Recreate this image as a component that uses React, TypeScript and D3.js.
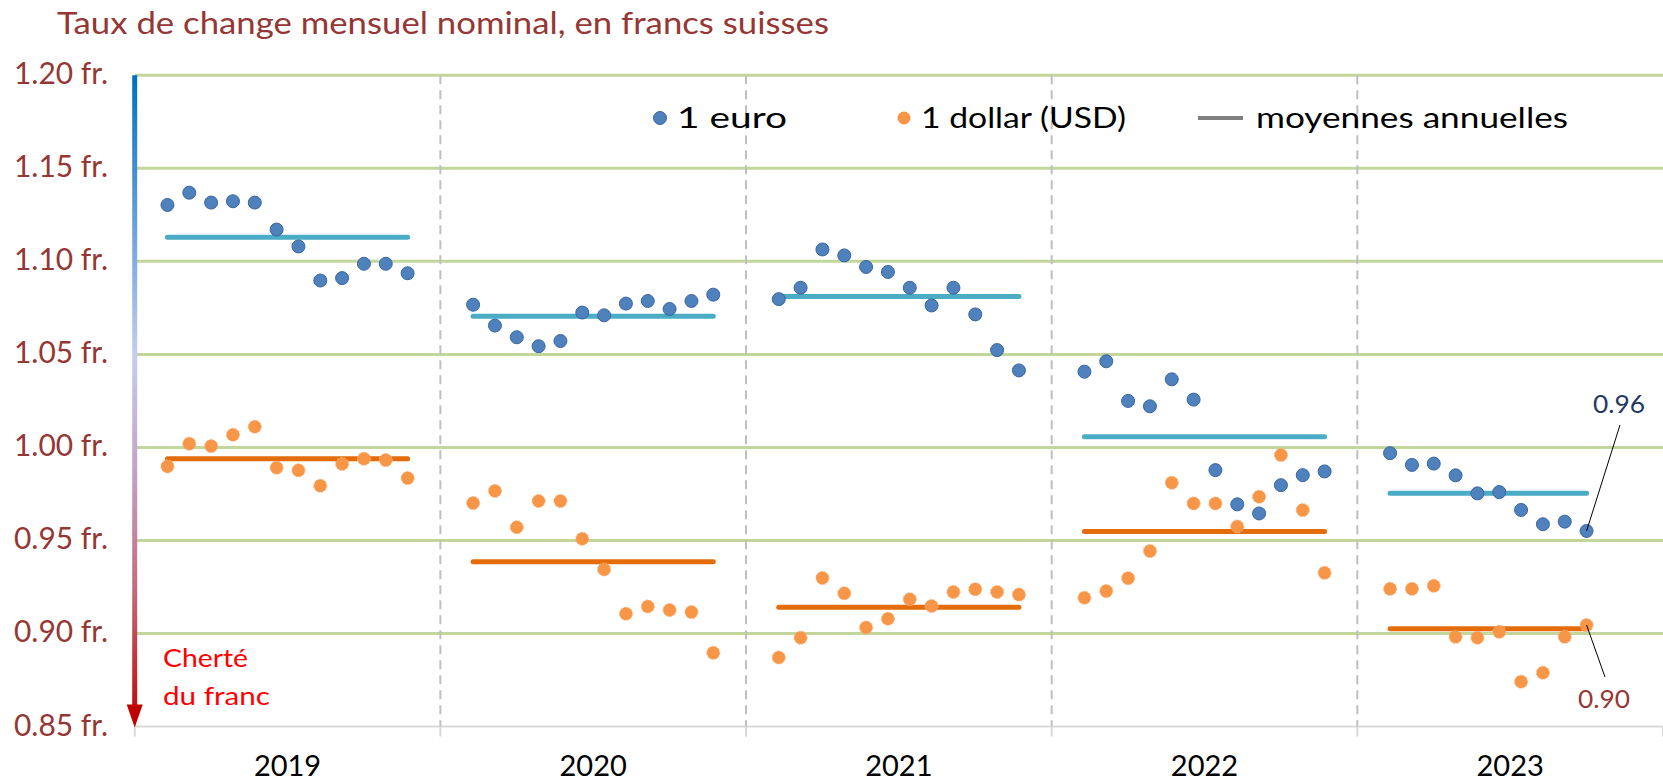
import React from "react";
import * as d3 from "d3";

const years = ["2019", "2020", "2021", "2022", "2023"];
const eur2019 = [1.1303, 1.1369, 1.1316, 1.1323, 1.1316, 1.1171, 1.108, 1.0897, 1.091, 1.0987, 1.0987, 1.0936];
const eur2020 = [1.0767, 1.0655, 1.0592, 1.0544, 1.0572, 1.0725, 1.071, 1.0773, 1.0787, 1.0744, 1.0787, 1.0821];
const eur2021 = [1.0797, 1.0858, 1.1064, 1.1032, 1.097, 1.0943, 1.0858, 1.0763, 1.0858, 1.0715, 1.0523, 1.0414];
const eur2022 = [1.0407, 1.0463, 1.025, 1.0221, 1.0366, 1.0257, 0.9878, 0.9694, 0.9645, 0.9797, 0.9851, 0.9871];
const eur2023 = [0.9969, 0.9906, 0.9913, 0.985, 0.9753, 0.976, 0.9664, 0.9587, 0.9601, 0.9551];
const usd2019 = [0.9898, 1.002, 1.0007, 1.0068, 1.0111, 0.9891, 0.9877, 0.9794, 0.9911, 0.9939, 0.9932, 0.9835];
const usd2020 = [0.9701, 0.9766, 0.9571, 0.9712, 0.9712, 0.9509, 0.9344, 0.9106, 0.9145, 0.9126, 0.9115, 0.8896];
const usd2021 = [0.8871, 0.8977, 0.9298, 0.9216, 0.9032, 0.9079, 0.9184, 0.9148, 0.9223, 0.9238, 0.9223, 0.9209];
const usd2022 = [0.9192, 0.9228, 0.9297, 0.9443, 0.981, 0.9699, 0.9699, 0.9575, 0.9735, 0.9959, 0.9663, 0.9326];
const usd2023 = [0.924, 0.924, 0.9256, 0.8982, 0.8977, 0.9009, 0.8741, 0.8789, 0.8982, 0.9045];
const eurAvg = [1.113, 1.0705, 1.0811, 1.0057, 0.9753];
const usdAvg = [0.9939, 0.9385, 0.9141, 0.9548, 0.9025];
const yTicks = [0.85, 0.9, 0.95, 1.0, 1.05, 1.1, 1.15, 1.2];
const legendLabels = ["1 euro", "1 dollar (USD)", "moyennes annuelles"];
const lastEurLabel = "0.96";
const lastUsdLabel = "0.90";

const eurSeries = [eur2019, eur2020, eur2021, eur2022, eur2023];
const usdSeries = [usd2019, usd2020, usd2021, usd2022, usd2023];

const W = 1663;
const H = 781;
const left = 134.7;
const right = 1663;
const top = 75.3;
const bottom = 726.5;
const FONT = "Lato, 'Open Sans', sans-serif";

export default function App() {
  const x = d3.scaleBand<string>().domain(years).range([left, right]).padding(0);
  const y = d3.scaleLinear().domain([0.85, 1.2]).range([bottom, top]);
  const bw = x.bandwidth();
  const mx = (yr: string, m: number) => (x(yr) as number) + ((m + 1.5) * bw) / 14;

  const boundaries = years.map((yr) => x(yr) as number).concat([right]);

  const lastEurIdx = eur2023.length - 1;
  const pE = { x: mx("2023", lastEurIdx), y: y(eur2023[lastEurIdx]) };
  const pU = { x: mx("2023", usd2023.length - 1), y: y(usd2023[usd2023.length - 1]) };

  return (
    <svg
      width={W}
      height={H}
      style={{ position: "absolute", left: 0, top: 0, background: "#fff" }}
      fontFamily={FONT}
    >
      <defs>
        <linearGradient id="arrowGrad" gradientUnits="userSpaceOnUse" x1="0" y1={top} x2="0" y2={bottom}>
          <stop offset="0" stopColor="#0070C0" />
          <stop offset="0.2" stopColor="#5B9BD5" />
          <stop offset="0.43" stopColor="#C5CDF0" />
          <stop offset="0.6" stopColor="#C4A4C8" />
          <stop offset="0.8" stopColor="#C26878" />
          <stop offset="1" stopColor="#C00000" />
        </linearGradient>
      </defs>

      {/* title */}
      <text x={57} y={34} fontSize={31} fill="#953735" textLength={772} lengthAdjust="spacingAndGlyphs">
        Taux de change mensuel nominal, en francs suisses
      </text>

      {/* green gridlines */}
      {yTicks.filter((t) => t > 0.86).map((t) => (
        <line key={t} x1={left} x2={right} y1={y(t)} y2={y(t)} stroke="#C3D69B" strokeWidth={3} />
      ))}
      {/* bottom axis */}
      <line x1={left} x2={right} y1={y(0.85)} y2={y(0.85)} stroke="#D9D9D9" strokeWidth={2} />
      {boundaries.map((b, i) => (
        <line key={"t" + i} x1={b} x2={b} y1={y(0.85)} y2={y(0.85) + 10} stroke="#D9D9D9" strokeWidth={2} />
      ))}
      {/* dashed separators */}
      {boundaries.slice(1, 5).map((b, i) => (
        <line key={"d" + i} x1={b} x2={b} y1={top} y2={bottom} stroke="#BFBFBF" strokeWidth={2} strokeDasharray="9,6" />
      ))}

      {/* y labels */}
      {yTicks.map((t) => (
        <text key={"yl" + t} x={108} y={y(t) + 9} textAnchor="end" fontSize={30} fill="#953735" textLength={94} lengthAdjust="spacingAndGlyphs">
          {t.toFixed(2)} fr.
        </text>
      ))}

      {/* x labels */}
      {years.map((yr) => (
        <text key={"xl" + yr} x={(x(yr) as number) + bw / 2} y={776} textAnchor="middle" fontSize={29} fill="#000">
          {yr}
        </text>
      ))}

      {/* gradient arrow */}
      <line x1={left} x2={left} y1={top} y2={bottom - 18} stroke="url(#arrowGrad)" strokeWidth={5} />
      <polygon
        points={`${left - 8},${bottom - 22} ${left + 8},${bottom - 22} ${left},${bottom + 1}`}
        fill="#C00000"
      />
      <text x={163} y={667} fontSize={25.5} fill="#FF0000" textLength={85} lengthAdjust="spacingAndGlyphs">Cherté</text>
      <text x={163} y={705} fontSize={25.5} fill="#FF0000" textLength={107} lengthAdjust="spacingAndGlyphs">du franc</text>

      {/* annual averages */}
      {years.map((yr, i) => {
        const n = eurSeries[i].length;
        return (
          <g key={"avg" + yr}>
            <line x1={mx(yr, 0)} x2={mx(yr, n - 1)} y1={y(eurAvg[i])} y2={y(eurAvg[i])} stroke="#4BACC6" strokeWidth={5} strokeLinecap="round" />
            <line x1={mx(yr, 0)} x2={mx(yr, n - 1)} y1={y(usdAvg[i])} y2={y(usdAvg[i])} stroke="#E46C0A" strokeWidth={5} strokeLinecap="round" />
          </g>
        );
      })}

      {/* points */}
      {years.map((yr, i) => (
        <g key={"pts" + yr}>
          {usdSeries[i].map((v, m) => (
            <circle key={"u" + m} cx={mx(yr, m)} cy={y(v)} r={6.5} fill="#F79646" stroke="#FAB07A" strokeWidth={1} strokeDasharray="2,1.5" />
          ))}
          {eurSeries[i].map((v, m) => (
            <circle key={"e" + m} cx={mx(yr, m)} cy={y(v)} r={6.5} fill="#4F81BD" stroke="#3A66A0" strokeWidth={1} />
          ))}
        </g>
      ))}

      {/* end labels */}
      <line x1={1620} y1={425} x2={pE.x} y2={pE.y} stroke="#000" strokeWidth={1} />
      <text x={1619} y={413} textAnchor="middle" fontSize={25} fill="#1F3864" textLength={52} lengthAdjust="spacingAndGlyphs">{lastEurLabel}</text>
      <line x1={pU.x} y1={pU.y} x2={1605} y2={677} stroke="#000" strokeWidth={1} />
      <text x={1604} y={708} textAnchor="middle" fontSize={25} fill="#953735" textLength={52} lengthAdjust="spacingAndGlyphs">{lastUsdLabel}</text>

      {/* legend */}
      <circle cx={660} cy={118} r={6.5} fill="#4F81BD" stroke="#3A66A0" strokeWidth={1} />
      <text x={677} y={128} fontSize={28} fill="#000" textLength={110} lengthAdjust="spacingAndGlyphs">{legendLabels[0]}</text>
      <circle cx={904} cy={118} r={6.5} fill="#F79646" />
      <text x={921} y={128} fontSize={28} fill="#000" textLength={205} lengthAdjust="spacingAndGlyphs">{legendLabels[1]}</text>
      <line x1={1198} x2={1243} y1={118} y2={118} stroke="#808080" strokeWidth={4} />
      <text x={1256} y={128} fontSize={28} fill="#000" textLength={312} lengthAdjust="spacingAndGlyphs">{legendLabels[2]}</text>
    </svg>
  );
}
